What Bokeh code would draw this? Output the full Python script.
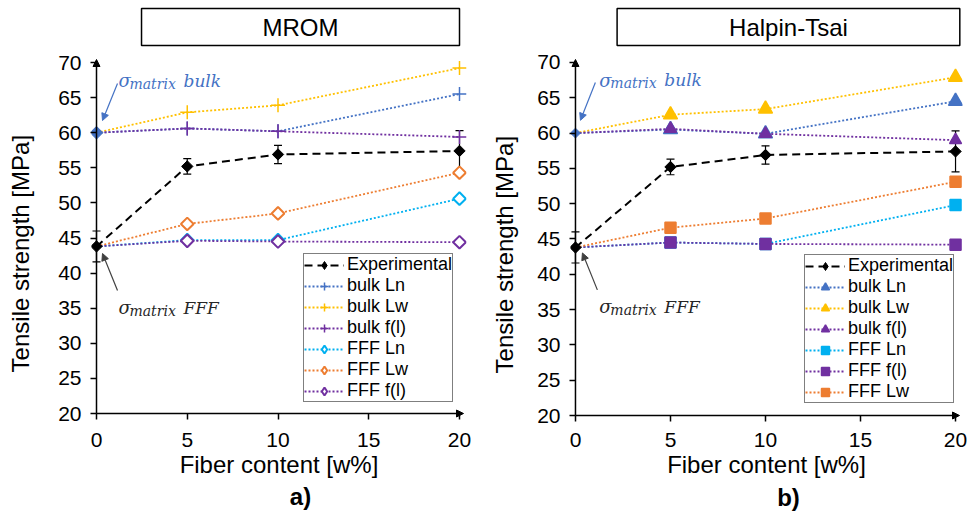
import numpy as np
from bokeh.plotting import figure
from bokeh.models import (Range1d, FixedTicker, Legend, LegendItem, Whisker, TeeHead,
                          Arrow, NormalHead, Label, ColumnDataSource)
from bokeh.layouts import row, column
from bokeh.embed import file_html
from bokeh.resources import INLINE

# ---------------- data ----------------
fiber = [0, 5, 10, 20]
x_ticks = [0, 5, 10, 15, 20]
y_ticks = [20, 25, 30, 35, 40, 45, 50, 55, 60, 65, 70]

matrix_bulk = 60.0
matrix_fff = 43.8

exp_mean = [43.8, 55.2, 56.9, 57.4]
exp_err = [2.2, 1.1, 1.3, 2.9]

# MROM
mrom_bulk_ln = [60.0, 60.6, 60.2, 65.5]
mrom_bulk_lw = [60.0, 62.9, 63.9, 69.2]
mrom_bulk_fl = [60.0, 60.6, 60.2, 59.4]
mrom_fff_ln = [43.8, 44.7, 44.7, 50.6]
mrom_fff_lw = [43.8, 47.0, 48.5, 54.3]
mrom_fff_fl = [43.8, 44.6, 44.5, 44.4]

# Halpin-Tsai
ht_bulk_ln = [60.0, 60.5, 59.9, 64.5]
ht_bulk_lw = [60.0, 62.6, 63.4, 67.9]
ht_bulk_fl = [60.0, 60.6, 59.9, 59.0]
ht_fff_ln = [43.8, 44.5, 44.3, 49.8]
ht_fff_fl = [43.8, 44.5, 44.3, 44.2]
ht_fff_lw = [43.8, 46.6, 47.9, 53.1]

BLUE = "#4472C4"
YELLOW = "#FFC000"
PURPLE = "#7030A0"
CYAN = "#00B0F0"
ORANGE = "#ED7D31"

SANS = "Liberation Sans"
SERIF = "DejaVu Serif"
ROT = 0.785398
NBSP = "\u00a0"

TITLE_H = 50
MAIN_H = 430
TAG_H = 33


def blank_fig(width, height):
    f = figure(width=width, height=height, output_backend="svg", toolbar_location=None,
               x_range=Range1d(0, width), y_range=Range1d(0, height),
               min_border=0, min_border_left=0, min_border_right=0,
               min_border_top=0, min_border_bottom=0)
    f.axis.visible = False
    f.grid.visible = False
    f.outline_line_color = None
    f.background_fill_color = "white"
    f.border_fill_color = "white"
    return f


def legend_only(p, **kw):
    # a glyph whose single point is NaN: nothing drawn on the plot, only in the legend
    src = ColumnDataSource(dict(x=np.array([np.nan]), y=np.array([np.nan])))
    return p.scatter("x", "y", source=src, **kw)


def make_panel(title, tag, series, ox, width, x0px, x20px, y70px, y20px,
               legend_box, title_center, tag_center, bulk_note, fff_note,
               bulk_arrow, fff_arrow, bulk_marker_size, xlab_standoff, ylab_standoff):
    sx = (x20px - x0px) / 20.0
    sy = (y20px - y70px) / 50.0
    fl = x0px - 5
    fr = x20px + 7
    ft = y70px - 7
    fb = y20px + 5
    top0 = TITLE_H  # page y of main figure top

    def px2x(px):
        return (px - x0px) / sx

    def px2y(py):
        return 70 - (py - y70px) / sy

    p = figure(width=width, height=MAIN_H, output_backend="svg", toolbar_location=None,
               x_range=Range1d(-5 / sx, 20 + 7 / sx), y_range=Range1d(20 - 5 / sy, 70 + 7 / sy),
               min_border_left=fl - ox, min_border_right=ox + width - fr,
               min_border_top=ft - top0, min_border_bottom=top0 + MAIN_H - fb)
    p.outline_line_color = None
    p.grid.visible = False
    p.background_fill_color = "white"
    p.border_fill_color = "white"

    for ax, ticks in ((p.xaxis, x_ticks), (p.yaxis, y_ticks)):
        ax.ticker = FixedTicker(ticks=ticks)
        ax.axis_line_color = None
        ax.major_tick_in = 5
        ax.major_tick_out = 1
        ax.major_tick_line_width = 1.5
        ax.major_tick_line_color = "black"
        ax.minor_tick_line_color = None
        ax.major_label_text_font = SANS
        ax.major_label_text_font_size = "21px"
        ax.major_label_text_color = "black"
        ax.axis_label_text_font = SANS
        ax.axis_label_text_font_size = "24px"
        ax.axis_label_text_font_style = "normal"
        ax.axis_label_text_color = "black"
    p.xaxis.axis_label = "Fiber content [w%]"
    # trailing no-break spaces move the rotated label down to the reference's position
    p.yaxis.axis_label = "Tensile strength [MPa]" + NBSP * 5
    p.xaxis.major_label_standoff = xlab_standoff
    p.xaxis.axis_label_standoff = 1
    p.yaxis.major_label_standoff = 9
    p.yaxis.axis_label_standoff = ylab_standoff

    # axis lines with arrow heads
    p.add_layout(Arrow(x_start=0, y_start=20, x_end=20 + 4 / sx, y_end=20, line_width=1.5,
                       end=NormalHead(size=7, fill_color="black", line_color="black")))
    p.add_layout(Arrow(x_start=0, y_start=20, x_end=0, y_end=70 + 3 / sy, line_width=1.5,
                       end=NormalHead(size=7, fill_color="black", line_color="black")))

    items = []
    for label, vals, color, marker, size, fill in series:
        lr = p.line(fiber, vals, line_color=color, line_width=1.8, line_dash="2 2")
        if marker == "square" and fill == "white":
            # open diamonds: rotated squares on the plot, diamond glyph in the legend
            msrc = ColumnDataSource(dict(x=fiber[1:], y=vals[1:], a=[ROT] * (len(fiber) - 1)))
            p.scatter("x", "y", source=msrc, marker="square", size=size, line_color=color,
                      fill_color=fill, line_width=2, angle="a")
            sr = legend_only(p, marker="diamond", size=size + 7, line_color=color,
                             fill_color=fill, line_width=2)
        else:
            sr = p.scatter(fiber[1:], vals[1:], marker=marker, size=size, line_color=color,
                           fill_color=fill, line_width=1.5)
        items.append(LegendItem(label=label, renderers=[lr, sr]))

    # matrix point (bulk)
    p.scatter([0], [matrix_bulk], marker="square", angle=ROT, size=bulk_marker_size,
              fill_color=BLUE, line_color=BLUE)

    # experimental
    upper = [m + e for m, e in zip(exp_mean, exp_err)]
    lower = [m - e for m, e in zip(exp_mean, exp_err)]
    src = ColumnDataSource(dict(x=fiber, y=exp_mean, upper=upper, lower=lower,
                                a=[ROT] * len(fiber)))
    p.add_layout(Whisker(source=src, base="x", upper="upper", lower="lower",
                         line_width=1.2, line_color="black",
                         upper_head=TeeHead(size=8, line_width=1.2, line_color="black"),
                         lower_head=TeeHead(size=8, line_width=1.2, line_color="black")))
    er = p.line("x", "y", source=src, line_color="black", line_width=2, line_dash="8 5")
    p.scatter("x", "y", source=src, marker="square", angle="a", size=8,
              fill_color="black", line_color="black")
    es = legend_only(p, marker="diamond", size=14, fill_color="black", line_color="black")
    items.insert(0, LegendItem(label="Experimental", renderers=[er, es]))

    legend = Legend(items=items, location=(legend_box[0] - fl, fb - legend_box[1]),
                    glyph_width=40, glyph_height=20, label_height=20, spacing=0,
                    padding=0, margin=0, label_standoff=3,
                    label_text_font=SANS, label_text_font_size="18px", label_text_color="black",
                    border_line_color="black", border_line_width=1.5,
                    background_fill_color="white", background_fill_alpha=1)
    p.add_layout(legend)

    # sigma annotations
    for (px, py, word, color) in (bulk_note + (BLUE,), fff_note + ("#262626",)):
        common = dict(x=px2x(px), y=px2y(py), text_font=SERIF, text_font_style="italic",
                      text_color=color, text_baseline="alphabetic")
        p.add_layout(Label(text="σ", text_font_size="18px", **common))
        p.add_layout(Label(text="matrix", text_font_size="14px", x_offset=11, y_offset=-3, **common))
        p.add_layout(Label(text=word, text_font_size="17px", x_offset=65, **common))

    for (a, color) in ((bulk_arrow, BLUE), (fff_arrow, "#404040")):
        p.add_layout(Arrow(x_start=px2x(a[0]), y_start=px2y(a[1]), x_end=px2x(a[2]),
                           y_end=px2y(a[3]), line_color=color, line_width=1.2,
                           end=NormalHead(size=7, fill_color=color, line_color=color)))

    # title box figure
    tf = blank_fig(width, TITLE_H)
    tf.add_layout(Label(x=title_center[0] - ox, y=TITLE_H - title_center[1], text=title,
                        text_font=SANS, text_font_size="24px", text_align="center",
                        text_baseline="middle", text_color="black",
                        padding=dict(left=title_center[2], right=title_center[2], top=5, bottom=5),
                        border_line_color="black", border_line_width=1.5,
                        background_fill_color="white"))

    # panel tag figure
    gf = blank_fig(width, TAG_H)
    gf.add_layout(Label(x=tag_center[0] - ox, y=TITLE_H + MAIN_H + TAG_H - tag_center[1],
                        text=tag, text_font=SANS, text_font_size="24px", text_font_style="bold",
                        text_align="center", text_baseline="middle", text_color="black"))
    return column(tf, p, gf, spacing=0)


mrom_series = [
    ("bulk Ln", mrom_bulk_ln, BLUE, "cross", 14, BLUE),
    ("bulk Lw", mrom_bulk_lw, YELLOW, "cross", 14, YELLOW),
    ("bulk f(l)", mrom_bulk_fl, PURPLE, "cross", 14, PURPLE),
    ("FFF Ln", mrom_fff_ln, CYAN, "square", 9, "white"),
    ("FFF Lw", mrom_fff_lw, ORANGE, "square", 9, "white"),
    ("FFF f(l)", mrom_fff_fl, PURPLE, "square", 9, "white"),
]
ht_series = [
    ("bulk Ln", ht_bulk_ln, BLUE, "triangle", 14, BLUE),
    ("bulk Lw", ht_bulk_lw, YELLOW, "triangle", 14, YELLOW),
    ("bulk f(l)", ht_bulk_fl, PURPLE, "triangle", 12, PURPLE),
    ("FFF Ln", ht_fff_ln, CYAN, "square", 11, CYAN),
    ("FFF f(l)", ht_fff_fl, PURPLE, "square", 11, PURPLE),
    ("FFF Lw", ht_fff_lw, ORANGE, "square", 11, ORANGE),
]

left = make_panel("MROM", "a)", mrom_series, ox=0, width=488, x0px=96, x20px=459,
                  y70px=62, y20px=413, legend_box=(303, 402), title_center=(272, 26.5, 121),
                  tag_center=(272, 496), bulk_note=(118, 80, "bulk"), fff_note=(118, 307, "FFF"),
                  bulk_arrow=(117, 83, 102, 120), fff_arrow=(117, 290, 102, 253),
                  bulk_marker_size=9, xlab_standoff=13, ylab_standoff=21)
right = make_panel("Halpin-Tsai", "b)", ht_series, ox=488, width=491, x0px=573, x20px=955,
                   y70px=62, y20px=416, legend_box=(802, 404), title_center=(761, 26.5, 112),
                   tag_center=(761, 497), bulk_note=(597, 80, "bulk"), fff_note=(597, 307, "FFF"),
                   bulk_arrow=(593, 82, 578, 120), fff_arrow=(595, 290, 580, 253),
                   bulk_marker_size=7, xlab_standoff=11, ylab_standoff=16)

layout = row(left, right, spacing=0)
open("out.html", "w").write(file_html(layout, INLINE))
